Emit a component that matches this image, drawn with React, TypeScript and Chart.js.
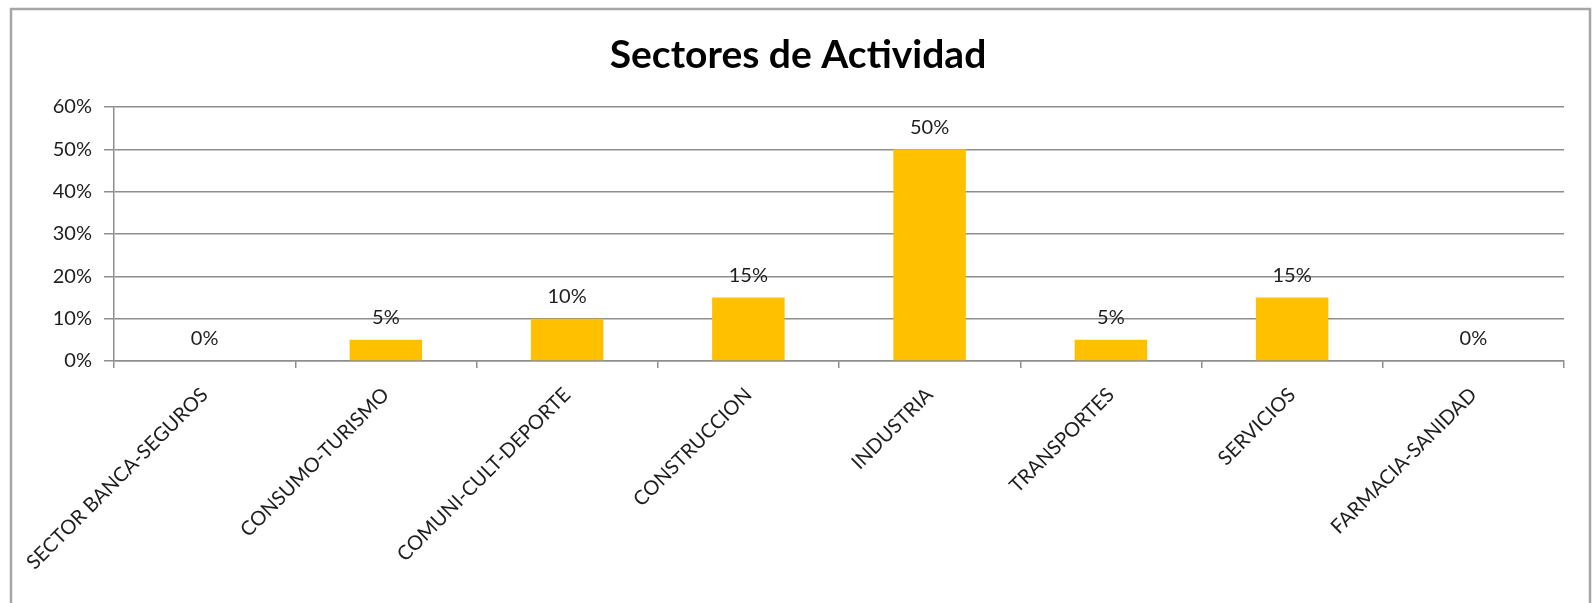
import React, { useEffect, useRef } from "react";
import { Chart, registerables } from "chart.js";

Chart.register(...registerables);

const categories = [
  "SECTOR BANCA-SEGUROS",
  "CONSUMO-TURISMO",
  "COMUNI-CULT-DEPORTE",
  "CONSTRUCCION",
  "INDUSTRIA",
  "TRANSPORTES",
  "SERVICIOS",
  "FARMACIA-SANIDAD",
];
const values = [0, 5, 10, 15, 50, 5, 15, 0];
const titleText = "Sectores de Actividad";
const yMax = 60;
const yStep = 10;

const FONT = "Lato, 'Open Sans', sans-serif";

const frame = {
  id: "frame",
  beforeDraw(chart: any) {
    const ctx = chart.ctx;
    ctx.save();
    ctx.fillStyle = "#ffffff";
    ctx.fillRect(0, 0, chart.width, chart.height);
    ctx.strokeStyle = "#a6a6a6";
    ctx.lineWidth = 2.5;
    ctx.strokeRect(11, 9, chart.width - 14, chart.height + 20);
    ctx.restore();
  },
};

const titlePlugin = {
  id: "titlePlugin",
  afterDraw(chart: any) {
    const ctx = chart.ctx;
    ctx.save();
    ctx.font = `bold 39px ${FONT}`;
    ctx.fillStyle = "#000000";
    ctx.textAlign = "center";
    ctx.textBaseline = "middle";
    ctx.fillText(titleText, 798, 55);
    ctx.restore();
  },
};

const dataLabels = {
  id: "dataLabels",
  afterDatasetsDraw(chart: any) {
    const ctx = chart.ctx;
    const meta = chart.getDatasetMeta(0);
    ctx.save();
    ctx.font = `20px ${FONT}`;
    ctx.fillStyle = "#1e1e1e";
    ctx.textAlign = "center";
    ctx.textBaseline = "middle";
    meta.data.forEach((el: any, i: number) => {
      ctx.fillText(`${values[i]}%`, el.x, el.y - 22);
    });
    ctx.restore();
  },
};

export default function App() {
  const ref = useRef<HTMLCanvasElement | null>(null);
  useEffect(() => {
    document.body.style.margin = "0";
    const chart = new Chart(ref.current!, {
      type: "bar",
      data: {
        labels: categories,
        datasets: [
          {
            data: values,
            backgroundColor: "#FFC000",
            borderWidth: 0,
            categoryPercentage: 1,
            barPercentage: 0.4,
          },
        ],
      },
      options: {
        animation: false,
        responsive: false,
        layout: { padding: { left: 0, right: 29, top: 107, bottom: 0 } },
        plugins: {
          legend: { display: false },
          tooltip: { enabled: false },
          title: { display: false },
        },
        scales: {
          x: {
            grid: {
              drawOnChartArea: false,
              drawTicks: true,
              tickLength: 7,
              color: "#8e8e8e",
              lineWidth: 1.5,
            },
            border: { color: "#8e8e8e", width: 1.5 },
            ticks: {
              minRotation: 45,
              maxRotation: 45,
              autoSkip: false,
              padding: 15,
              color: "#1e1e1e",
              font: { family: FONT, size: 20 },
            },
            afterFit(s: any) {
              s.height = 242;
            },
          },
          y: {
            min: 0,
            max: yMax,
            ticks: {
              stepSize: yStep,
              padding: 12,
              color: "#1e1e1e",
              font: { family: FONT, size: 20 },
              callback: (v: any) => `${v}%`,
            },
            grid: {
              color: "#8e8e8e",
              lineWidth: 1.5,
              tickLength: 10,
            },
            border: { color: "#8e8e8e", width: 1.5 },
            afterFit(s: any) {
              s.width = 114;
            },
          },
        },
      },
      plugins: [frame, dataLabels, titlePlugin],
    });
    return () => chart.destroy();
  }, []);
  return <canvas ref={ref} width={1593} height={603} style={{ display: "block" }} />;
}
